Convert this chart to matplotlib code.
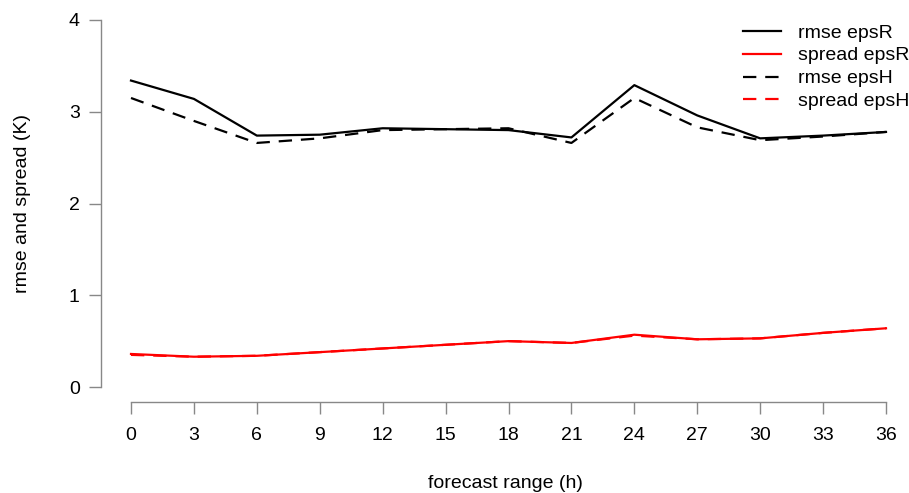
import numpy as np
import matplotlib
matplotlib.use("Agg")
from matplotlib import pyplot as plt

plt.rcParams['font.family'] = ['Liberation Sans', 'DejaVu Sans']

# forecast range (h)
lead = [0, 3, 6, 9, 12, 15, 18, 21, 24, 27, 30, 33, 36]

rmse_epsR = [3.34, 3.14, 2.74, 2.75, 2.82, 2.81, 2.80, 2.72, 3.29, 2.96, 2.71, 2.74, 2.78]
spread_epsR = [0.36, 0.33, 0.34, 0.38, 0.42, 0.46, 0.50, 0.48, 0.57, 0.52, 0.53, 0.59, 0.64]
rmse_epsH = [3.15, 2.90, 2.66, 2.71, 2.80, 2.81, 2.82, 2.66, 3.15, 2.83, 2.69, 2.73, 2.78]
spread_epsH = [0.35, 0.33, 0.34, 0.38, 0.42, 0.46, 0.50, 0.48, 0.56, 0.52, 0.53, 0.59, 0.64]

W, H = 909, 493
fig = plt.figure(figsize=(W / 100, H / 100), dpi=100)
ax = fig.add_axes([101 / W, (H - 402) / H, (W - 101) / W, (402 - 5) / H])

dash = (0, (6, 4))
ax.plot(lead, rmse_epsR, color='black', lw=1.6, label='rmse epsR')
ax.plot(lead, spread_epsR, color='red', lw=1.6, label='spread epsR')
ax.plot(lead, rmse_epsH, color='black', lw=1.6, ls=dash, label='rmse epsH')
ax.plot(lead, spread_epsH, color='red', lw=1.6, ls=dash, label='spread epsH')

ax.set_xlim(-30 / 20.97, 36 + 23 / 20.97)
ax.set_ylim(-15 / 91.75, (387 - 5) / 91.75)

ax.set_xticks(lead)
ax.set_yticks([0, 1, 2, 3, 4])
for s in ['top', 'right']:
    ax.spines[s].set_visible(False)
ax.spines['left'].set_bounds(0, 4)
ax.spines['bottom'].set_bounds(0, 36)
for s in ['left', 'bottom']:
    ax.spines[s].set_color('#888888')
    ax.spines[s].set_linewidth(1.0)
ax.tick_params(axis='both', colors='#888888', labelcolor='black', length=8.3,
               width=1.0, labelsize=14)
ax.tick_params(axis='x', pad=10)
ax.tick_params(axis='y', pad=7)

ax.set_xlabel('forecast range (h)', fontsize=14)
ax.xaxis.set_label_coords(0.5, -(483 - 402) / (402 - 5), transform=ax.transAxes)
ax.xaxis.label.set_va('center')
ax.set_ylabel('rmse and spread (K)', fontsize=14)
ax.yaxis.set_label_coords((23 - 101) / (W - 101), 0.5, transform=ax.transAxes)
ax.yaxis.label.set_va('center')

fig.legend(*ax.get_legend_handles_labels(), loc='upper right',
           bbox_to_anchor=(1.0, (H - 24) / H), frameon=False,
           fontsize=14, handlelength=1.95, handletextpad=0.85,
           labelspacing=0.27, borderpad=0, borderaxespad=0)

fig.savefig('out.png', dpi=100)
